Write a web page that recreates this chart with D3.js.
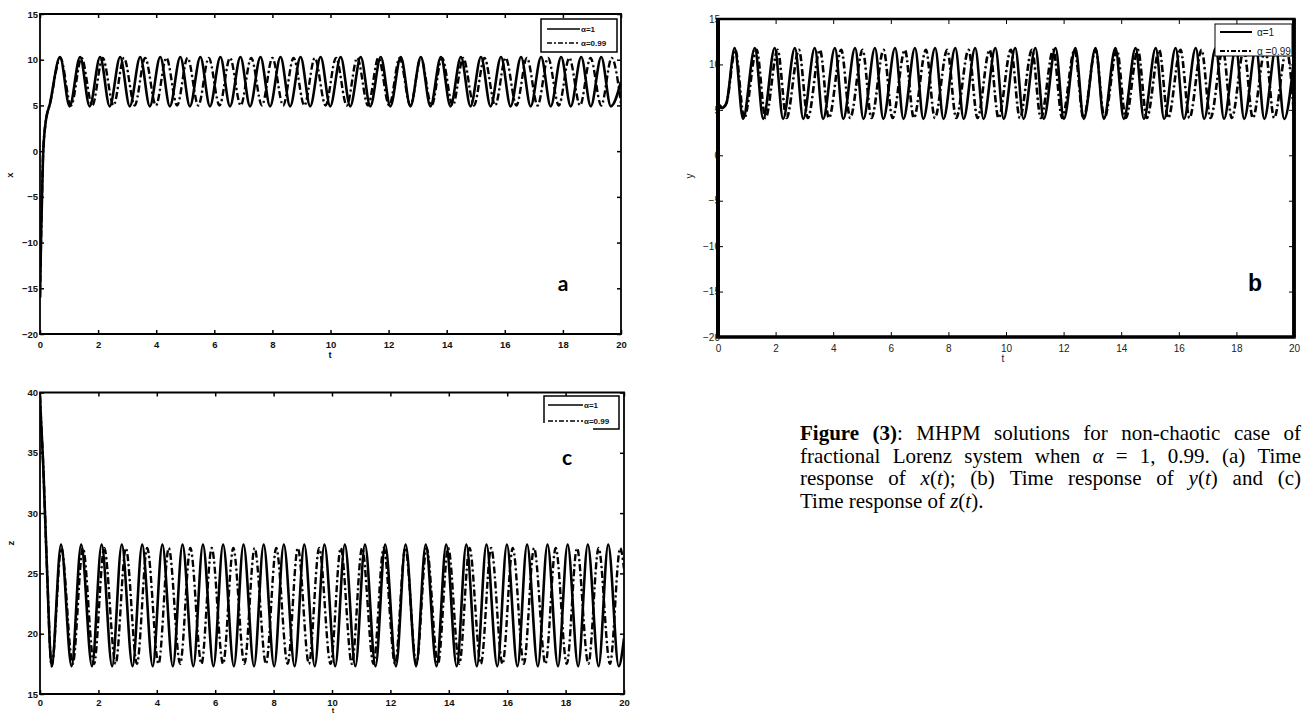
<!DOCTYPE html>
<html><head><meta charset="utf-8">
<script src="https://cdn.jsdelivr.net/npm/d3@7/dist/d3.min.js"></script>
<style>body{margin:0;background:#fff}svg{display:block}</style>
</head><body>
<svg id="fig" width="1310" height="713"></svg>
<script>
// ---------- tick values ----------
const tTicks = [0,2,4,6,8,10,12,14,16,18,20];
const xyTicks = [-20,-15,-10,-5,0,5,10,15];
const zTicks = [15,20,25,30,35,40];
const legendLabels = ["α=1","α=0.99"];

// ---------- series (t, value) ----------
const xAlpha1 = [[0,-16],[0.04,-9],[0.1,-1],[0.18,2.8],[0.35,5.3],[0.69,10.3],
[1.02,4.9],[1.38,10.3],[1.71,4.9],[2.07,10.3],[2.40,4.9],[2.76,10.3],[3.09,4.9],[3.45,10.3],[3.78,4.9],[4.14,10.3],[4.47,4.9],[4.83,10.3],[5.16,4.9],[5.52,10.3],[5.85,4.9],[6.21,10.3],[6.54,4.9],[6.90,10.3],[7.23,4.9],[7.59,10.3],[7.92,4.9],[8.28,10.3],[8.61,4.9],[8.97,10.3],[9.30,4.9],[9.66,10.3],[9.99,4.9],[10.35,10.3],[10.68,4.9],[11.04,10.3],[11.37,4.9],[11.73,10.3],[12.06,4.9],[12.42,10.3],[12.75,4.9],[13.11,10.3],[13.44,4.9],[13.80,10.3],[14.13,4.9],[14.49,10.3],[14.82,4.9],[15.18,10.3],[15.51,4.9],[15.87,10.3],[16.20,4.9],[16.56,10.3],[16.89,4.9],[17.25,10.3],[17.58,4.9],[17.94,10.3],[18.27,4.9],[18.63,10.3],[18.96,4.9],[19.32,10.3],[19.65,4.9],[20,7.6]];
const xAlpha099 = [[0,-16],[0.04,-9],[0.1,-1],[0.18,2.8],[0.36,5.4],[0.70,10.2],[1.07,5.0],[1.43,10.2],[1.80,5.0],[2.16,10.2],[2.53,5.0],[2.89,10.2],[3.26,5.0],[3.62,10.2],[3.99,5.0],[4.35,10.2],[4.72,5.0],[5.08,10.2],[5.45,5.0],[5.81,10.2],[6.18,5.0],[6.54,10.2],[6.91,5.0],[7.27,10.2],[7.64,5.0],[8.00,10.2],[8.37,5.0],[8.73,10.2],[9.10,5.0],[9.46,10.2],[9.83,5.0],[10.19,10.2],[10.56,5.0],[10.92,10.2],[11.29,5.0],[11.65,10.2],[12.02,5.0],[12.38,10.2],[12.75,5.0],[13.11,10.2],[13.48,5.0],[13.84,10.2],[14.21,5.0],[14.57,10.2],[14.94,5.0],[15.30,10.2],[15.67,5.0],[16.03,10.2],[16.40,5.0],[16.76,10.2],[17.13,5.0],[17.49,10.2],[17.86,5.0],[18.22,10.2],[18.59,5.0],[18.95,10.2],[19.32,5.0],[19.68,10.2],[20,5.2]];
const yAlpha1 = [[0,-12],[0.02,5.0],[0.06,5.5],[0.12,5.2],[0.2,5.3],[0.3,5.8],[0.58,11.8],[0.87,4.0],[1.28,11.8],[1.57,4.0],[1.97,11.8],[2.26,4.0],[2.67,11.8],[2.96,4.0],[3.36,11.8],[3.65,4.0],[4.06,11.8],[4.35,4.0],[4.76,11.8],[5.05,4.0],[5.45,11.8],[5.74,4.0],[6.15,11.8],[6.44,4.0],[6.84,11.8],[7.13,4.0],[7.54,11.8],[7.83,4.0],[8.24,11.8],[8.53,4.0],[8.93,11.8],[9.22,4.0],[9.63,11.8],[9.92,4.0],[10.32,11.8],[10.61,4.0],[11.02,11.8],[11.31,4.0],[11.72,11.8],[12.01,4.0],[12.41,11.8],[12.70,4.0],[13.11,11.8],[13.40,4.0],[13.80,11.8],[14.09,4.0],[14.50,11.8],[14.79,4.0],[15.20,11.8],[15.49,4.0],[15.89,11.8],[16.18,4.0],[16.59,11.8],[16.88,4.0],[17.28,11.8],[17.57,4.0],[17.98,11.8],[18.27,4.0],[18.68,11.8],[18.97,4.0],[19.37,11.8],[19.66,4.0],[20,10.6]];
const yAlpha099 = [[0,-12],[0.02,5.0],[0.06,5.5],[0.12,5.2],[0.2,5.3],[0.3,5.8],[0.60,11.6],[0.91,4.1],[1.34,11.6],[1.65,4.1],[2.07,11.6],[2.38,4.1],[2.81,11.6],[3.12,4.1],[3.54,11.6],[3.85,4.1],[4.28,11.6],[4.59,4.1],[5.02,11.6],[5.33,4.1],[5.75,11.6],[6.06,4.1],[6.49,11.6],[6.80,4.1],[7.22,11.6],[7.53,4.1],[7.96,11.6],[8.27,4.1],[8.70,11.6],[9.01,4.1],[9.43,11.6],[9.74,4.1],[10.17,11.6],[10.48,4.1],[10.90,11.6],[11.21,4.1],[11.64,11.6],[11.95,4.1],[12.38,11.6],[12.69,4.1],[13.11,11.6],[13.42,4.1],[13.85,11.6],[14.16,4.1],[14.58,11.6],[14.89,4.1],[15.32,11.6],[15.63,4.1],[16.06,11.6],[16.37,4.1],[16.79,11.6],[17.10,4.1],[17.53,11.6],[17.84,4.1],[18.26,11.6],[18.57,4.1],[19.00,11.6],[19.31,4.1],[19.74,11.6],[20,4.4]];
const zAlpha1 = [[0,39.7],[0.03,38],[0.11,34],[0.23,26],[0.40,17.3],[0.72,27.4],[1.08,17.3],[1.41,27.4],[1.78,17.3],[2.11,27.4],[2.47,17.3],[2.80,27.4],[3.17,17.3],[3.50,27.4],[3.86,17.3],[4.19,27.4],[4.55,17.3],[4.88,27.4],[5.25,17.3],[5.58,27.4],[5.94,17.3],[6.27,27.4],[6.64,17.3],[6.97,27.4],[7.33,17.3],[7.66,27.4],[8.02,17.3],[8.35,27.4],[8.72,17.3],[9.05,27.4],[9.41,17.3],[9.74,27.4],[10.11,17.3],[10.44,27.4],[10.80,17.3],[11.13,27.4],[11.49,17.3],[11.82,27.4],[12.19,17.3],[12.52,27.4],[12.88,17.3],[13.21,27.4],[13.58,17.3],[13.91,27.4],[14.27,17.3],[14.60,27.4],[14.96,17.3],[15.29,27.4],[15.66,17.3],[15.99,27.4],[16.35,17.3],[16.68,27.4],[17.05,17.3],[17.38,27.4],[17.74,17.3],[18.07,27.4],[18.43,17.3],[18.76,27.4],[19.13,17.3],[19.46,27.4],[19.82,17.3],[20,19.6]];
const zAlpha099 = [[0,39.7],[0.03,38],[0.11,34],[0.23,26],[0.40,17.3],[0.73,27.1],[1.12,17.5],[1.47,27.1],[1.85,17.5],[2.20,27.1],[2.59,17.5],[2.94,27.1],[3.32,17.5],[3.67,27.1],[4.06,17.5],[4.41,27.1],[4.80,17.5],[5.15,27.1],[5.53,17.5],[5.88,27.1],[6.27,17.5],[6.62,27.1],[7.00,17.5],[7.35,27.1],[7.74,17.5],[8.09,27.1],[8.48,17.5],[8.83,27.1],[9.21,17.5],[9.56,27.1],[9.95,17.5],[10.30,27.1],[10.68,17.5],[11.03,27.1],[11.42,17.5],[11.77,27.1],[12.16,17.5],[12.51,27.1],[12.89,17.5],[13.24,27.1],[13.63,17.5],[13.98,27.1],[14.36,17.5],[14.71,27.1],[15.10,17.5],[15.45,27.1],[15.84,17.5],[16.19,27.1],[16.57,17.5],[16.92,27.1],[17.31,17.5],[17.66,27.1],[18.04,17.5],[18.39,27.1],[18.78,17.5],[19.13,27.1],[19.52,17.5],[19.87,27.1],[20,25.4]];

// caption: lines of words; each word = runs [text, style]
const captionLines = [
  [[["Figure","b"]],[["(3)","b"],[":","n"]],[["MHPM","n"]],[["solutions","n"]],[["for","n"]],[["non-chaotic","n"]],[["case","n"]],[["of","n"]]],
  [[["fractional","n"]],[["Lorenz","n"]],[["system","n"]],[["when","n"]],[["α","i"]],[["=","n"]],[["1,","n"]],[["0.99.","n"]],[["(a)","n"]],[["Time","n"]]],
  [[["response","n"]],[["of","n"]],[["x","i"],["(","n"],["t","i"],[");","n"]],[["(b)","n"]],[["Time","n"]],[["response","n"]],[["of","n"]],[["y","i"],["(","n"],["t","i"],[")","n"]],[["and","n"]],[["(c)","n"]]],
  [[["Time","n"]],[["response","n"]],[["of","n"]],[["z","i"],["(","n"],["t","i"],[").","n"]]]
];

const svg = d3.select("#fig");
const DASH = "7,3,2,3";

function panel(cfg){
  const g = svg.append("g");
  const xs = d3.scaleLinear().domain([0,20]).range([cfg.x0,cfg.x1]);
  const ys = d3.scaleLinear().domain(cfg.ydom).range([cfg.yb,cfg.yt]);
  const id = "clip"+cfg.name;
  svg.append("clipPath").attr("id",id).append("rect")
    .attr("x",cfg.x0).attr("y",cfg.yt).attr("width",cfg.x1-cfg.x0).attr("height",cfg.yb-cfg.yt);
  const line = d3.line().x(d=>xs(d[0])).y(d=>ys(d[1])).curve(d3.curveMonotoneX);
  const lines = g.append("g").attr("clip-path","url(#"+id+")");
  lines.append("path").attr("d",line(cfg.s2)).attr("fill","none").attr("stroke","#aaa")
    .attr("stroke-width",1).attr("stroke-dasharray","1,2");
  lines.append("path").attr("d",line(cfg.s2)).attr("fill","none").attr("stroke","#000")
    .attr("stroke-width",cfg.lw2).attr("stroke-dasharray",DASH);
  lines.append("path").attr("d",line(cfg.s1)).attr("fill","none").attr("stroke","#000")
    .attr("stroke-width",cfg.lw1);

  const tl = cfg.tick;
  const font = cfg.font;
  function style(sel, showText){
    sel.select(".domain").remove();
    sel.selectAll(".tick line").attr("stroke","#000").attr("stroke-width",cfg.tickW);
    sel.selectAll(".tick text").attr("font-family",font.family).attr("font-weight",font.weight)
      .attr("font-size",font.size).attr("fill",font.color);
    if(!showText) sel.selectAll(".tick text").remove();
  }
  g.append("g").attr("transform",`translate(0,${cfg.yb})`)
    .call(d3.axisBottom(xs).tickValues(tTicks).tickSize(-tl).tickPadding(cfg.padB)).call(s=>style(s,true));
  g.append("g").attr("transform",`translate(0,${cfg.yt})`)
    .call(d3.axisTop(xs).tickValues(tTicks).tickSize(-tl)).call(s=>style(s,false));
  g.append("g").attr("transform",`translate(${cfg.x0},0)`)
    .call(d3.axisLeft(ys).tickValues(cfg.yticks).tickSize(-tl).tickPadding(cfg.padL)).call(s=>style(s,true));
  g.append("g").attr("transform",`translate(${cfg.x1},0)`)
    .call(d3.axisRight(ys).tickValues(cfg.yticks).tickSize(-tl)).call(s=>style(s,false));

  // frame
  const b = cfg.border;
  g.append("line").attr("x1",cfg.x0-b.l/2).attr("x2",cfg.x1+b.r/2).attr("y1",cfg.yt).attr("y2",cfg.yt).attr("stroke","#000").attr("stroke-width",b.t);
  g.append("line").attr("x1",cfg.x0-b.l/2).attr("x2",cfg.x1+b.r/2).attr("y1",cfg.yb).attr("y2",cfg.yb).attr("stroke","#000").attr("stroke-width",b.b);
  g.append("line").attr("x1",cfg.x0).attr("x2",cfg.x0).attr("y1",cfg.yt).attr("y2",cfg.yb).attr("stroke","#000").attr("stroke-width",b.l);
  g.append("line").attr("x1",cfg.x1).attr("x2",cfg.x1).attr("y1",cfg.yt).attr("y2",cfg.yb).attr("stroke","#000").attr("stroke-width",b.r);

  // axis labels
  const lf = cfg.lab;
  g.append("text").attr("x",cfg.tLab[0]).attr("y",cfg.tLab[1]).attr("text-anchor","middle")
    .attr("font-family",lf.family).attr("font-weight",lf.weight).attr("font-size",cfg.tLabSize||lf.size).attr("fill",lf.color).text("t");
  g.append("text").attr("transform",`translate(${cfg.vLab[0]},${cfg.vLab[1]}) rotate(-90)`).attr("text-anchor","middle")
    .attr("font-family",lf.family).attr("font-weight",lf.weight).attr("font-size",lf.size).attr("fill",lf.color).text(cfg.vName);

  // panel letter
  g.append("text").attr("x",cfg.letter[0]).attr("y",cfg.letter[1]).attr("text-anchor","middle")
    .attr("font-family",cfg.letterFont).attr("font-weight","bold").attr("font-size",cfg.letterSize).attr("fill","#000").text(cfg.name);
  return {g,xs,ys};
}

// ---- panel a ----
const fontAC = {family:"'Liberation Sans',Arial,sans-serif",weight:"bold",size:"9.5px",color:"#111"};
const pa = panel({name:"a",x0:40,x1:621,yt:14,yb:334,ydom:[-20,15],yticks:xyTicks,s1:xAlpha1,s2:xAlpha099,
  lw1:2.6,lw2:2.4,tick:4,tickW:1.5,padB:7,padL:2,font:fontAC,border:{t:1.8,b:1.8,l:1.8,r:1.8},
  lab:fontAC,tLab:[330,358],vLab:[13,175],vName:"x",letter:[563,291],letterFont:"Lato,'Open Sans',sans-serif",letterSize:"21px"});
// ---- panel b ----
const fontB = {family:"'Liberation Sans',Arial,sans-serif",weight:"normal",size:"10px",color:"#222"};
const pb = panel({name:"b",x0:718,x1:1294,yt:19,yb:337,ydom:[-20,15],yticks:xyTicks,s1:yAlpha1,s2:yAlpha099,
  lw1:2.6,lw2:2.6,tick:5,tickW:1,padB:8,padL:-2,font:fontB,border:{t:2.5,b:3.5,l:4,r:3.5},
  lab:fontB,tLab:[1003,362],vLab:[693,176],vName:"y",letter:[1255,291],letterFont:"'Liberation Sans',Arial,sans-serif",letterSize:"23px"});
// ---- panel c ----
const pc = panel({name:"c",x0:40,x1:624,yt:392.5,yb:694,ydom:[15,40],yticks:zTicks,s1:zAlpha1,s2:zAlpha099,
  lw1:2.6,lw2:2.4,tick:4,tickW:1.5,padB:5,padL:2,font:fontAC,border:{t:1.8,b:1.8,l:1.8,r:1.8},
  lab:fontAC,tLab:[333,712.5],tLabSize:"7.5px",vLab:[14,543],vName:"z",letter:[567,465],letterFont:"Lato,'Open Sans',sans-serif",letterSize:"21px"});

// ---- legends ----
function legend(L){
  const g = svg.append("g");
  g.append("rect").attr("x",L.x).attr("y",L.y).attr("width",L.w).attr("height",L.h).attr("fill","#fff").attr("stroke","none");
  if(L.cutBottom){
    g.append("path").attr("d",`M${L.x},${L.y+L.h-6}V${L.y}H${L.x+L.w}V${L.y+L.h}H${L.cutBottom}`).attr("fill","none").attr("stroke","#000").attr("stroke-width",L.bw);
  } else {
    g.append("rect").attr("x",L.x).attr("y",L.y).attr("width",L.w).attr("height",L.h).attr("fill","none").attr("stroke","#000").attr("stroke-width",L.bw);
  }
  L.rows.forEach((r,i)=>{
    g.append("line").attr("x1",L.lx0).attr("x2",L.lx1).attr("y1",r).attr("y2",r).attr("stroke","#000")
      .attr("stroke-width",L.lw).attr("stroke-dasharray",i===1?"5,2,2,2":null);
    g.append("text").attr("x",L.tx).attr("y",r+L.dy).attr("font-family",L.font.family).attr("font-weight",L.font.weight)
      .attr("font-size",L.font.size).attr("fill",L.font.color).text(L.labels?L.labels[i]:legendLabels[i]);
  });
  return g;
}
legend({x:541,y:19,w:76,h:33,bw:1.5,rows:[29,43],lx0:547,lx1:580,lw:1.6,tx:581,dy:3,font:{family:fontAC.family,weight:"bold",size:"8px",color:"#111"}});
legend({x:544,y:396,w:75,h:33,bw:1.5,rows:[405,421],lx0:548,lx1:583,lw:1.6,tx:584,dy:3,cutBottom:593,font:{family:fontAC.family,weight:"bold",size:"8px",color:"#111"}});
const lb = legend({x:1215,y:24,w:77,h:32,bw:1,rows:[32,51],lx0:1220,lx1:1252,lw:2,tx:1257,dy:4,labels:["α=1","α  =0.99"],font:{family:fontB.family,weight:"normal",size:"10px",color:"#222"}});
// redraw thick right border of b over the legend text
svg.append("line").attr("x1",1294).attr("x2",1294).attr("y1",19).attr("y2",337).attr("stroke","#000").attr("stroke-width",3.5);
svg.append("line").attr("x1",1292.5).attr("x2",1292.5).attr("y1",24).attr("y2",56).attr("stroke","#000").attr("stroke-width",1);

// ---- caption (justified) ----
const cap = svg.append("g").attr("font-family","'Liberation Serif','Times New Roman',serif").attr("font-size","21px").attr("fill","#000");
const capX0 = 800, capX1 = 1301, capY = [440,462.5,485,507.5];
captionLines.forEach((words,li)=>{
  const els = words.map(runs=>{
    const t = cap.append("text").attr("y",capY[li]);
    runs.forEach(([txt,st])=>{
      t.append("tspan").text(txt).attr("font-weight",st==="b"?"bold":null).attr("font-style",st==="i"?"italic":null);
    });
    return t;
  });
  const widths = els.map(e=>e.node().getComputedTextLength());
  const total = d3.sum(widths);
  const last = li===captionLines.length-1;
  const gap = last ? 5.2 : Math.max(3,(capX1-capX0-total)/(words.length-1));
  let x = capX0;
  els.forEach((e,i)=>{ e.attr("x",x); x += widths[i]+gap; });
});
</script>
</body></html>
